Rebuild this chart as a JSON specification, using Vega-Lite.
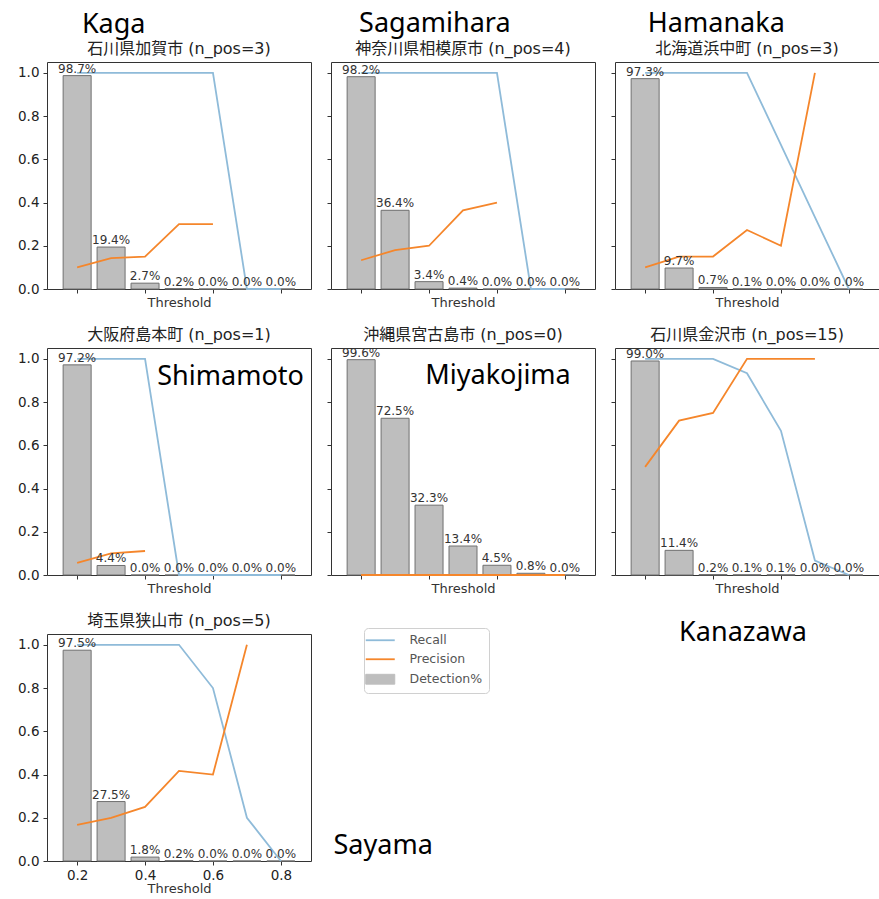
{
  "$schema": "https://vega.github.io/schema/vega-lite/v6.json",
  "padding": {"left": 17, "top": 9, "right": 0, "bottom": 2},
  "background": "white",
  "datasets": {
    "d": [
      {"c":"Kaga","t":0.2,"det":0.987,"Recall":1,"Precision":0.1},
      {"c":"Kaga","t":0.3,"det":0.194,"Recall":1,"Precision":0.143},
      {"c":"Kaga","t":0.4,"det":0.027,"Recall":1,"Precision":0.15},
      {"c":"Kaga","t":0.5,"det":0.002,"Recall":1,"Precision":0.3},
      {"c":"Kaga","t":0.6,"det":0.0,"Recall":1,"Precision":0.3},
      {"c":"Kaga","t":0.7,"det":0.0,"Recall":0,"Precision":null},
      {"c":"Kaga","t":0.8,"det":0.0,"Recall":0,"Precision":null},
      {"c":"Sagamihara","t":0.2,"det":0.982,"Recall":1,"Precision":0.133},
      {"c":"Sagamihara","t":0.3,"det":0.364,"Recall":1,"Precision":0.18},
      {"c":"Sagamihara","t":0.4,"det":0.034,"Recall":1,"Precision":0.2},
      {"c":"Sagamihara","t":0.5,"det":0.004,"Recall":1,"Precision":0.364},
      {"c":"Sagamihara","t":0.6,"det":0.0,"Recall":1,"Precision":0.4},
      {"c":"Sagamihara","t":0.7,"det":0.0,"Recall":0,"Precision":null},
      {"c":"Sagamihara","t":0.8,"det":0.0,"Recall":0,"Precision":null},
      {"c":"Hamanaka","t":0.2,"det":0.973,"Recall":1,"Precision":0.1},
      {"c":"Hamanaka","t":0.3,"det":0.097,"Recall":1,"Precision":0.15},
      {"c":"Hamanaka","t":0.4,"det":0.007,"Recall":1,"Precision":0.15},
      {"c":"Hamanaka","t":0.5,"det":0.001,"Recall":1,"Precision":0.273},
      {"c":"Hamanaka","t":0.6,"det":0.0,"Recall":0.667,"Precision":0.2},
      {"c":"Hamanaka","t":0.7,"det":0.0,"Recall":0.333,"Precision":1},
      {"c":"Hamanaka","t":0.8,"det":0.0,"Recall":0,"Precision":null},
      {"c":"Shimamoto","t":0.2,"det":0.972,"Recall":1,"Precision":0.056},
      {"c":"Shimamoto","t":0.3,"det":0.044,"Recall":1,"Precision":0.1},
      {"c":"Shimamoto","t":0.4,"det":0.0,"Recall":1,"Precision":0.111},
      {"c":"Shimamoto","t":0.5,"det":0.0,"Recall":0,"Precision":null},
      {"c":"Shimamoto","t":0.6,"det":0.0,"Recall":0,"Precision":null},
      {"c":"Shimamoto","t":0.7,"det":0.0,"Recall":0,"Precision":null},
      {"c":"Shimamoto","t":0.8,"det":0.0,"Recall":0,"Precision":null},
      {"c":"Miyakojima","t":0.2,"det":0.996,"Recall":null,"Precision":0},
      {"c":"Miyakojima","t":0.3,"det":0.725,"Recall":null,"Precision":0},
      {"c":"Miyakojima","t":0.4,"det":0.323,"Recall":null,"Precision":0},
      {"c":"Miyakojima","t":0.5,"det":0.134,"Recall":null,"Precision":0},
      {"c":"Miyakojima","t":0.6,"det":0.045,"Recall":null,"Precision":0},
      {"c":"Miyakojima","t":0.7,"det":0.008,"Recall":null,"Precision":0},
      {"c":"Miyakojima","t":0.8,"det":0.0,"Recall":null,"Precision":0},
      {"c":"Kanazawa","t":0.2,"det":0.99,"Recall":1,"Precision":0.5},
      {"c":"Kanazawa","t":0.3,"det":0.114,"Recall":1,"Precision":0.714},
      {"c":"Kanazawa","t":0.4,"det":0.002,"Recall":1,"Precision":0.75},
      {"c":"Kanazawa","t":0.5,"det":0.001,"Recall":0.933,"Precision":1},
      {"c":"Kanazawa","t":0.6,"det":0.001,"Recall":0.667,"Precision":1},
      {"c":"Kanazawa","t":0.7,"det":0.0,"Recall":0.067,"Precision":1},
      {"c":"Kanazawa","t":0.8,"det":0.0,"Recall":0,"Precision":null},
      {"c":"Sayama","t":0.2,"det":0.975,"Recall":1,"Precision":0.167},
      {"c":"Sayama","t":0.3,"det":0.275,"Recall":1,"Precision":0.2},
      {"c":"Sayama","t":0.4,"det":0.018,"Recall":1,"Precision":0.25},
      {"c":"Sayama","t":0.5,"det":0.002,"Recall":1,"Precision":0.417},
      {"c":"Sayama","t":0.6,"det":0.0,"Recall":0.8,"Precision":0.4},
      {"c":"Sayama","t":0.7,"det":0.0,"Recall":0.2,"Precision":1},
      {"c":"Sayama","t":0.8,"det":0.0,"Recall":0,"Precision":null}
    ],
    "names": [
      {"c":"Kaga","name":"Kaga","title":"石川県加賀市 (n_pos=3)"},
      {"c":"Sagamihara","name":"Sagamihara","title":"神奈川県相模原市 (n_pos=4)"},
      {"c":"Hamanaka","name":"Hamanaka","title":"北海道浜中町 (n_pos=3)"},
      {"c":"Shimamoto","name":"Shimamoto","title":"大阪府島本町 (n_pos=1)"},
      {"c":"Miyakojima","name":"Miyakojima","title":"沖縄県宮古島市 (n_pos=0)"},
      {"c":"Kanazawa","name":"Kanazawa","title":"石川県金沢市 (n_pos=15)"},
      {"c":"Sayama","name":"Sayama","title":"埼玉県狭山市 (n_pos=5)"}
    ]
  },
  "columns": 3,
  "spacing": {"row": 59, "column": 20},
  "bounds": "flush",
  "concat": [
    {
      "width": 264, "height": 227,
      "layer": [
        {"data": {"name": "d"}, "transform": [{"filter": "datum.c === 'Kaga'"}], "mark": {"type": "bar", "width": 28, "color": "#bebebe", "stroke": "#707070", "strokeWidth": 1}, "encoding": {"x": {"field": "t", "type": "quantitative", "scale": {"domain": [0.126, 0.874], "nice": false, "zero": false}, "axis": {"values": [0.2, 0.4, 0.6, 0.8], "labels": false, "title": "Threshold", "titlePadding": 3}}, "y": {"field": "det", "type": "quantitative", "scale": {"domain": [0, 1.05], "nice": false}, "axis": {"values": [0, 0.2, 0.4, 0.6, 0.8, 1], "format": ".1f", "labels": true, "labelFlush": false, "labelPadding": 4, "title": null}}}},
        {"data": {"name": "d"}, "transform": [{"filter": "datum.c === 'Kaga'"}, {"fold": ["Recall", "Precision"]}], "mark": {"type": "line", "strokeWidth": 1.8}, "encoding": {"x": {"field": "t", "type": "quantitative"}, "y": {"field": "value", "type": "quantitative", "title": null}, "color": {"field": "key", "type": "nominal", "scale": {"domain": ["Recall", "Precision", "Detection%"], "range": ["#8fbbd9", "#f5862b", "#bebebe"]}, "legend": {"orient": "none", "legendX": 317, "legendY": 566, "title": null, "encode": {"symbols": {"update": {"shape": {"signal": "datum.value === 'Detection%' ? 'M-1,-0.34H1V0.34H-1Z' : 'stroke'"}, "fill": {"signal": "datum.value === 'Detection%' ? '#bebebe' : 'transparent'"}, "stroke": {"signal": "datum.value === 'Recall' ? '#8fbbd9' : datum.value === 'Precision' ? '#f5862b' : '#707070'"}, "strokeWidth": {"signal": "datum.value === 'Detection%' ? 1 : 1.8"}}}}}}}},
        {"data": {"name": "d"}, "transform": [{"filter": "datum.c === 'Kaga'"}], "mark": {"type": "text", "baseline": "alphabetic", "dy": -3, "fontSize": 12, "font": "DejaVu Sans", "color": "#333"}, "encoding": {"x": {"field": "t", "type": "quantitative"}, "y": {"field": "det", "type": "quantitative", "title": null}, "text": {"field": "det", "type": "quantitative", "format": ".1%"}}},
        {"data": {"name": "names"}, "transform": [{"filter": "datum.c === 'Kaga'"}], "mark": {"type": "text", "align": "center", "baseline": "alphabetic", "fontSize": 16, "font": "DejaVu Sans, Noto Sans CJK JP", "color": "#222"}, "encoding": {"x": {"datum": 0.5, "type": "quantitative"}, "y": {"datum": 1.087, "type": "quantitative", "title": null}, "text": {"field": "title"}}},
        {"data": {"name": "names"}, "transform": [{"filter": "datum.c === 'Kaga'"}], "mark": {"type": "text", "align": "left", "baseline": "alphabetic", "fontSize": 27, "font": "Noto Sans", "color": "#000"}, "encoding": {"x": {"datum": 0.214, "type": "quantitative"}, "y": {"datum": 1.185, "type": "quantitative", "title": null}, "text": {"field": "name"}}}
      ]
    },
    {
      "width": 264, "height": 227,
      "layer": [
        {"data": {"name": "d"}, "transform": [{"filter": "datum.c === 'Sagamihara'"}], "mark": {"type": "bar", "width": 28, "color": "#bebebe", "stroke": "#707070", "strokeWidth": 1}, "encoding": {"x": {"field": "t", "type": "quantitative", "scale": {"domain": [0.126, 0.874], "nice": false, "zero": false}, "axis": {"values": [0.2, 0.4, 0.6, 0.8], "labels": false, "title": "Threshold", "titlePadding": 3}}, "y": {"field": "det", "type": "quantitative", "scale": {"domain": [0, 1.05], "nice": false}, "axis": {"values": [0, 0.2, 0.4, 0.6, 0.8, 1], "labels": false, "title": null}}}},
        {"data": {"name": "d"}, "transform": [{"filter": "datum.c === 'Sagamihara'"}, {"fold": ["Recall", "Precision"]}], "mark": {"type": "line", "strokeWidth": 1.8}, "encoding": {"x": {"field": "t", "type": "quantitative"}, "y": {"field": "value", "type": "quantitative", "title": null}, "color": {"field": "key", "type": "nominal", "scale": {"domain": ["Recall", "Precision", "Detection%"], "range": ["#8fbbd9", "#f5862b", "#bebebe"]}, "legend": {"orient": "none", "legendX": 317, "legendY": 566, "title": null, "encode": {"symbols": {"update": {"shape": {"signal": "datum.value === 'Detection%' ? 'M-1,-0.34H1V0.34H-1Z' : 'stroke'"}, "fill": {"signal": "datum.value === 'Detection%' ? '#bebebe' : 'transparent'"}, "stroke": {"signal": "datum.value === 'Recall' ? '#8fbbd9' : datum.value === 'Precision' ? '#f5862b' : '#707070'"}, "strokeWidth": {"signal": "datum.value === 'Detection%' ? 1 : 1.8"}}}}}}}},
        {"data": {"name": "d"}, "transform": [{"filter": "datum.c === 'Sagamihara'"}], "mark": {"type": "text", "baseline": "alphabetic", "dy": -3, "fontSize": 12, "font": "DejaVu Sans", "color": "#333"}, "encoding": {"x": {"field": "t", "type": "quantitative"}, "y": {"field": "det", "type": "quantitative", "title": null}, "text": {"field": "det", "type": "quantitative", "format": ".1%"}}},
        {"data": {"name": "names"}, "transform": [{"filter": "datum.c === 'Sagamihara'"}], "mark": {"type": "text", "align": "center", "baseline": "alphabetic", "fontSize": 16, "font": "DejaVu Sans, Noto Sans CJK JP", "color": "#222"}, "encoding": {"x": {"datum": 0.5, "type": "quantitative"}, "y": {"datum": 1.087, "type": "quantitative", "title": null}, "text": {"field": "title"}}},
        {"data": {"name": "names"}, "transform": [{"filter": "datum.c === 'Sagamihara'"}], "mark": {"type": "text", "align": "left", "baseline": "alphabetic", "fontSize": 27, "font": "Noto Sans", "color": "#000"}, "encoding": {"x": {"datum": 0.194, "type": "quantitative"}, "y": {"datum": 1.19, "type": "quantitative", "title": null}, "text": {"field": "name"}}}
      ]
    },
    {
      "width": 264, "height": 227,
      "layer": [
        {"data": {"name": "d"}, "transform": [{"filter": "datum.c === 'Hamanaka'"}], "mark": {"type": "bar", "width": 28, "color": "#bebebe", "stroke": "#707070", "strokeWidth": 1}, "encoding": {"x": {"field": "t", "type": "quantitative", "scale": {"domain": [0.126, 0.874], "nice": false, "zero": false}, "axis": {"values": [0.2, 0.4, 0.6, 0.8], "labels": false, "title": "Threshold", "titlePadding": 3}}, "y": {"field": "det", "type": "quantitative", "scale": {"domain": [0, 1.05], "nice": false}, "axis": {"values": [0, 0.2, 0.4, 0.6, 0.8, 1], "labels": false, "title": null}}}},
        {"data": {"name": "d"}, "transform": [{"filter": "datum.c === 'Hamanaka'"}, {"fold": ["Recall", "Precision"]}], "mark": {"type": "line", "strokeWidth": 1.8}, "encoding": {"x": {"field": "t", "type": "quantitative"}, "y": {"field": "value", "type": "quantitative", "title": null}, "color": {"field": "key", "type": "nominal", "scale": {"domain": ["Recall", "Precision", "Detection%"], "range": ["#8fbbd9", "#f5862b", "#bebebe"]}, "legend": {"orient": "none", "legendX": 317, "legendY": 566, "title": null, "encode": {"symbols": {"update": {"shape": {"signal": "datum.value === 'Detection%' ? 'M-1,-0.34H1V0.34H-1Z' : 'stroke'"}, "fill": {"signal": "datum.value === 'Detection%' ? '#bebebe' : 'transparent'"}, "stroke": {"signal": "datum.value === 'Recall' ? '#8fbbd9' : datum.value === 'Precision' ? '#f5862b' : '#707070'"}, "strokeWidth": {"signal": "datum.value === 'Detection%' ? 1 : 1.8"}}}}}}}},
        {"data": {"name": "d"}, "transform": [{"filter": "datum.c === 'Hamanaka'"}], "mark": {"type": "text", "baseline": "alphabetic", "dy": -3, "fontSize": 12, "font": "DejaVu Sans", "color": "#333"}, "encoding": {"x": {"field": "t", "type": "quantitative"}, "y": {"field": "det", "type": "quantitative", "title": null}, "text": {"field": "det", "type": "quantitative", "format": ".1%"}}},
        {"data": {"name": "names"}, "transform": [{"filter": "datum.c === 'Hamanaka'"}], "mark": {"type": "text", "align": "center", "baseline": "alphabetic", "fontSize": 16, "font": "DejaVu Sans, Noto Sans CJK JP", "color": "#222"}, "encoding": {"x": {"datum": 0.5, "type": "quantitative"}, "y": {"datum": 1.087, "type": "quantitative", "title": null}, "text": {"field": "title"}}},
        {"data": {"name": "names"}, "transform": [{"filter": "datum.c === 'Hamanaka'"}], "mark": {"type": "text", "align": "left", "baseline": "alphabetic", "fontSize": 27, "font": "Noto Sans", "color": "#000"}, "encoding": {"x": {"datum": 0.208, "type": "quantitative"}, "y": {"datum": 1.19, "type": "quantitative", "title": null}, "text": {"field": "name"}}}
      ]
    },
    {
      "width": 264, "height": 227,
      "layer": [
        {"data": {"name": "d"}, "transform": [{"filter": "datum.c === 'Shimamoto'"}], "mark": {"type": "bar", "width": 28, "color": "#bebebe", "stroke": "#707070", "strokeWidth": 1}, "encoding": {"x": {"field": "t", "type": "quantitative", "scale": {"domain": [0.126, 0.874], "nice": false, "zero": false}, "axis": {"values": [0.2, 0.4, 0.6, 0.8], "labels": false, "title": "Threshold", "titlePadding": 3}}, "y": {"field": "det", "type": "quantitative", "scale": {"domain": [0, 1.05], "nice": false}, "axis": {"values": [0, 0.2, 0.4, 0.6, 0.8, 1], "format": ".1f", "labels": true, "labelFlush": false, "labelPadding": 4, "title": null}}}},
        {"data": {"name": "d"}, "transform": [{"filter": "datum.c === 'Shimamoto'"}, {"fold": ["Recall", "Precision"]}], "mark": {"type": "line", "strokeWidth": 1.8}, "encoding": {"x": {"field": "t", "type": "quantitative"}, "y": {"field": "value", "type": "quantitative", "title": null}, "color": {"field": "key", "type": "nominal", "scale": {"domain": ["Recall", "Precision", "Detection%"], "range": ["#8fbbd9", "#f5862b", "#bebebe"]}, "legend": {"orient": "none", "legendX": 317, "legendY": 566, "title": null, "encode": {"symbols": {"update": {"shape": {"signal": "datum.value === 'Detection%' ? 'M-1,-0.34H1V0.34H-1Z' : 'stroke'"}, "fill": {"signal": "datum.value === 'Detection%' ? '#bebebe' : 'transparent'"}, "stroke": {"signal": "datum.value === 'Recall' ? '#8fbbd9' : datum.value === 'Precision' ? '#f5862b' : '#707070'"}, "strokeWidth": {"signal": "datum.value === 'Detection%' ? 1 : 1.8"}}}}}}}},
        {"data": {"name": "d"}, "transform": [{"filter": "datum.c === 'Shimamoto'"}], "mark": {"type": "text", "baseline": "alphabetic", "dy": -3, "fontSize": 12, "font": "DejaVu Sans", "color": "#333"}, "encoding": {"x": {"field": "t", "type": "quantitative"}, "y": {"field": "det", "type": "quantitative", "title": null}, "text": {"field": "det", "type": "quantitative", "format": ".1%"}}},
        {"data": {"name": "names"}, "transform": [{"filter": "datum.c === 'Shimamoto'"}], "mark": {"type": "text", "align": "center", "baseline": "alphabetic", "fontSize": 16, "font": "DejaVu Sans, Noto Sans CJK JP", "color": "#222"}, "encoding": {"x": {"datum": 0.5, "type": "quantitative"}, "y": {"datum": 1.087, "type": "quantitative", "title": null}, "text": {"field": "title"}}},
        {"data": {"name": "names"}, "transform": [{"filter": "datum.c === 'Shimamoto'"}], "mark": {"type": "text", "align": "left", "baseline": "alphabetic", "fontSize": 27, "font": "Noto Sans", "color": "#000"}, "encoding": {"x": {"datum": 0.436, "type": "quantitative"}, "y": {"datum": 0.88, "type": "quantitative", "title": null}, "text": {"field": "name"}}}
      ]
    },
    {
      "width": 264, "height": 227,
      "layer": [
        {"data": {"name": "d"}, "transform": [{"filter": "datum.c === 'Miyakojima'"}], "mark": {"type": "bar", "width": 28, "color": "#bebebe", "stroke": "#707070", "strokeWidth": 1}, "encoding": {"x": {"field": "t", "type": "quantitative", "scale": {"domain": [0.126, 0.874], "nice": false, "zero": false}, "axis": {"values": [0.2, 0.4, 0.6, 0.8], "labels": false, "title": "Threshold", "titlePadding": 3}}, "y": {"field": "det", "type": "quantitative", "scale": {"domain": [0, 1.05], "nice": false}, "axis": {"values": [0, 0.2, 0.4, 0.6, 0.8, 1], "labels": false, "title": null}}}},
        {"data": {"name": "d"}, "transform": [{"filter": "datum.c === 'Miyakojima'"}, {"fold": ["Recall", "Precision"]}], "mark": {"type": "line", "strokeWidth": 1.8}, "encoding": {"x": {"field": "t", "type": "quantitative"}, "y": {"field": "value", "type": "quantitative", "title": null}, "color": {"field": "key", "type": "nominal", "scale": {"domain": ["Recall", "Precision", "Detection%"], "range": ["#8fbbd9", "#f5862b", "#bebebe"]}, "legend": {"orient": "none", "legendX": 317, "legendY": 566, "title": null, "encode": {"symbols": {"update": {"shape": {"signal": "datum.value === 'Detection%' ? 'M-1,-0.34H1V0.34H-1Z' : 'stroke'"}, "fill": {"signal": "datum.value === 'Detection%' ? '#bebebe' : 'transparent'"}, "stroke": {"signal": "datum.value === 'Recall' ? '#8fbbd9' : datum.value === 'Precision' ? '#f5862b' : '#707070'"}, "strokeWidth": {"signal": "datum.value === 'Detection%' ? 1 : 1.8"}}}}}}}},
        {"data": {"name": "d"}, "transform": [{"filter": "datum.c === 'Miyakojima'"}], "mark": {"type": "text", "baseline": "alphabetic", "dy": -3, "fontSize": 12, "font": "DejaVu Sans", "color": "#333"}, "encoding": {"x": {"field": "t", "type": "quantitative"}, "y": {"field": "det", "type": "quantitative", "title": null}, "text": {"field": "det", "type": "quantitative", "format": ".1%"}}},
        {"data": {"name": "names"}, "transform": [{"filter": "datum.c === 'Miyakojima'"}], "mark": {"type": "text", "align": "center", "baseline": "alphabetic", "fontSize": 16, "font": "DejaVu Sans, Noto Sans CJK JP", "color": "#222"}, "encoding": {"x": {"datum": 0.5, "type": "quantitative"}, "y": {"datum": 1.087, "type": "quantitative", "title": null}, "text": {"field": "title"}}},
        {"data": {"name": "names"}, "transform": [{"filter": "datum.c === 'Miyakojima'"}], "mark": {"type": "text", "align": "left", "baseline": "alphabetic", "fontSize": 27, "font": "Noto Sans", "color": "#000"}, "encoding": {"x": {"datum": 0.389, "type": "quantitative"}, "y": {"datum": 0.885, "type": "quantitative", "title": null}, "text": {"field": "name"}}}
      ]
    },
    {
      "width": 264, "height": 227,
      "layer": [
        {"data": {"name": "d"}, "transform": [{"filter": "datum.c === 'Kanazawa'"}], "mark": {"type": "bar", "width": 28, "color": "#bebebe", "stroke": "#707070", "strokeWidth": 1}, "encoding": {"x": {"field": "t", "type": "quantitative", "scale": {"domain": [0.126, 0.874], "nice": false, "zero": false}, "axis": {"values": [0.2, 0.4, 0.6, 0.8], "labels": false, "title": "Threshold", "titlePadding": 3}}, "y": {"field": "det", "type": "quantitative", "scale": {"domain": [0, 1.05], "nice": false}, "axis": {"values": [0, 0.2, 0.4, 0.6, 0.8, 1], "labels": false, "title": null}}}},
        {"data": {"name": "d"}, "transform": [{"filter": "datum.c === 'Kanazawa'"}, {"fold": ["Recall", "Precision"]}], "mark": {"type": "line", "strokeWidth": 1.8}, "encoding": {"x": {"field": "t", "type": "quantitative"}, "y": {"field": "value", "type": "quantitative", "title": null}, "color": {"field": "key", "type": "nominal", "scale": {"domain": ["Recall", "Precision", "Detection%"], "range": ["#8fbbd9", "#f5862b", "#bebebe"]}, "legend": {"orient": "none", "legendX": 317, "legendY": 566, "title": null, "encode": {"symbols": {"update": {"shape": {"signal": "datum.value === 'Detection%' ? 'M-1,-0.34H1V0.34H-1Z' : 'stroke'"}, "fill": {"signal": "datum.value === 'Detection%' ? '#bebebe' : 'transparent'"}, "stroke": {"signal": "datum.value === 'Recall' ? '#8fbbd9' : datum.value === 'Precision' ? '#f5862b' : '#707070'"}, "strokeWidth": {"signal": "datum.value === 'Detection%' ? 1 : 1.8"}}}}}}}},
        {"data": {"name": "d"}, "transform": [{"filter": "datum.c === 'Kanazawa'"}], "mark": {"type": "text", "baseline": "alphabetic", "dy": -3, "fontSize": 12, "font": "DejaVu Sans", "color": "#333"}, "encoding": {"x": {"field": "t", "type": "quantitative"}, "y": {"field": "det", "type": "quantitative", "title": null}, "text": {"field": "det", "type": "quantitative", "format": ".1%"}}},
        {"data": {"name": "names"}, "transform": [{"filter": "datum.c === 'Kanazawa'"}], "mark": {"type": "text", "align": "center", "baseline": "alphabetic", "fontSize": 16, "font": "DejaVu Sans, Noto Sans CJK JP", "color": "#222"}, "encoding": {"x": {"datum": 0.5, "type": "quantitative"}, "y": {"datum": 1.087, "type": "quantitative", "title": null}, "text": {"field": "title"}}},
        {"data": {"name": "names"}, "transform": [{"filter": "datum.c === 'Kanazawa'"}], "mark": {"type": "text", "align": "left", "baseline": "alphabetic", "fontSize": 27, "font": "Noto Sans", "color": "#000"}, "encoding": {"x": {"datum": 0.3, "type": "quantitative"}, "y": {"datum": -0.306, "type": "quantitative", "title": null}, "text": {"field": "name"}}}
      ]
    },
    {
      "width": 264, "height": 227,
      "layer": [
        {"data": {"name": "d"}, "transform": [{"filter": "datum.c === 'Sayama'"}], "mark": {"type": "bar", "width": 28, "color": "#bebebe", "stroke": "#707070", "strokeWidth": 1}, "encoding": {"x": {"field": "t", "type": "quantitative", "scale": {"domain": [0.126, 0.874], "nice": false, "zero": false}, "axis": {"values": [0.2, 0.4, 0.6, 0.8], "format": ".1f", "labels": true, "labelFlush": false, "labelPadding": 3, "title": "Threshold", "titlePadding": 1}}, "y": {"field": "det", "type": "quantitative", "scale": {"domain": [0, 1.05], "nice": false}, "axis": {"values": [0, 0.2, 0.4, 0.6, 0.8, 1], "format": ".1f", "labels": true, "labelFlush": false, "labelPadding": 4, "title": null}}}},
        {"data": {"name": "d"}, "transform": [{"filter": "datum.c === 'Sayama'"}, {"fold": ["Recall", "Precision"]}], "mark": {"type": "line", "strokeWidth": 1.8}, "encoding": {"x": {"field": "t", "type": "quantitative"}, "y": {"field": "value", "type": "quantitative", "title": null}, "color": {"field": "key", "type": "nominal", "scale": {"domain": ["Recall", "Precision", "Detection%"], "range": ["#8fbbd9", "#f5862b", "#bebebe"]}, "legend": {"orient": "none", "legendX": 317, "legendY": 566, "title": null, "encode": {"symbols": {"update": {"shape": {"signal": "datum.value === 'Detection%' ? 'M-1,-0.34H1V0.34H-1Z' : 'stroke'"}, "fill": {"signal": "datum.value === 'Detection%' ? '#bebebe' : 'transparent'"}, "stroke": {"signal": "datum.value === 'Recall' ? '#8fbbd9' : datum.value === 'Precision' ? '#f5862b' : '#707070'"}, "strokeWidth": {"signal": "datum.value === 'Detection%' ? 1 : 1.8"}}}}}}}},
        {"data": {"name": "d"}, "transform": [{"filter": "datum.c === 'Sayama'"}], "mark": {"type": "text", "baseline": "alphabetic", "dy": -3, "fontSize": 12, "font": "DejaVu Sans", "color": "#333"}, "encoding": {"x": {"field": "t", "type": "quantitative"}, "y": {"field": "det", "type": "quantitative", "title": null}, "text": {"field": "det", "type": "quantitative", "format": ".1%"}}},
        {"data": {"name": "names"}, "transform": [{"filter": "datum.c === 'Sayama'"}], "mark": {"type": "text", "align": "center", "baseline": "alphabetic", "fontSize": 16, "font": "DejaVu Sans, Noto Sans CJK JP", "color": "#222"}, "encoding": {"x": {"datum": 0.5, "type": "quantitative"}, "y": {"datum": 1.087, "type": "quantitative", "title": null}, "text": {"field": "title"}}},
        {"data": {"name": "names"}, "transform": [{"filter": "datum.c === 'Sayama'"}], "mark": {"type": "text", "align": "left", "baseline": "alphabetic", "fontSize": 27, "font": "Noto Sans", "color": "#000"}, "encoding": {"x": {"datum": 0.955, "type": "quantitative"}, "y": {"datum": 0.032, "type": "quantitative", "title": null}, "text": {"field": "name"}}}
      ]
    }
  ],
  "config": {
    "view": {"stroke": "#333", "strokeWidth": 1},
    "axis": {"grid": false, "domain": false, "tickColor": "#333", "tickSize": 4, "labelFont": "DejaVu Sans", "labelFontSize": 13.5, "labelColor": "#222", "titleFont": "DejaVu Sans", "titleFontSize": 13, "titleFontWeight": "normal", "titleColor": "#333"},
    "legend": {"padding": 6, "strokeColor": "#d0d0d0", "cornerRadius": 4, "fillColor": "#ffffff", "labelFont": "DejaVu Sans", "labelFontSize": 12.5, "labelColor": "#555", "symbolSize": 841, "rowPadding": 6, "labelOffset": 23, "symbolOffset": 4}
  }
}
